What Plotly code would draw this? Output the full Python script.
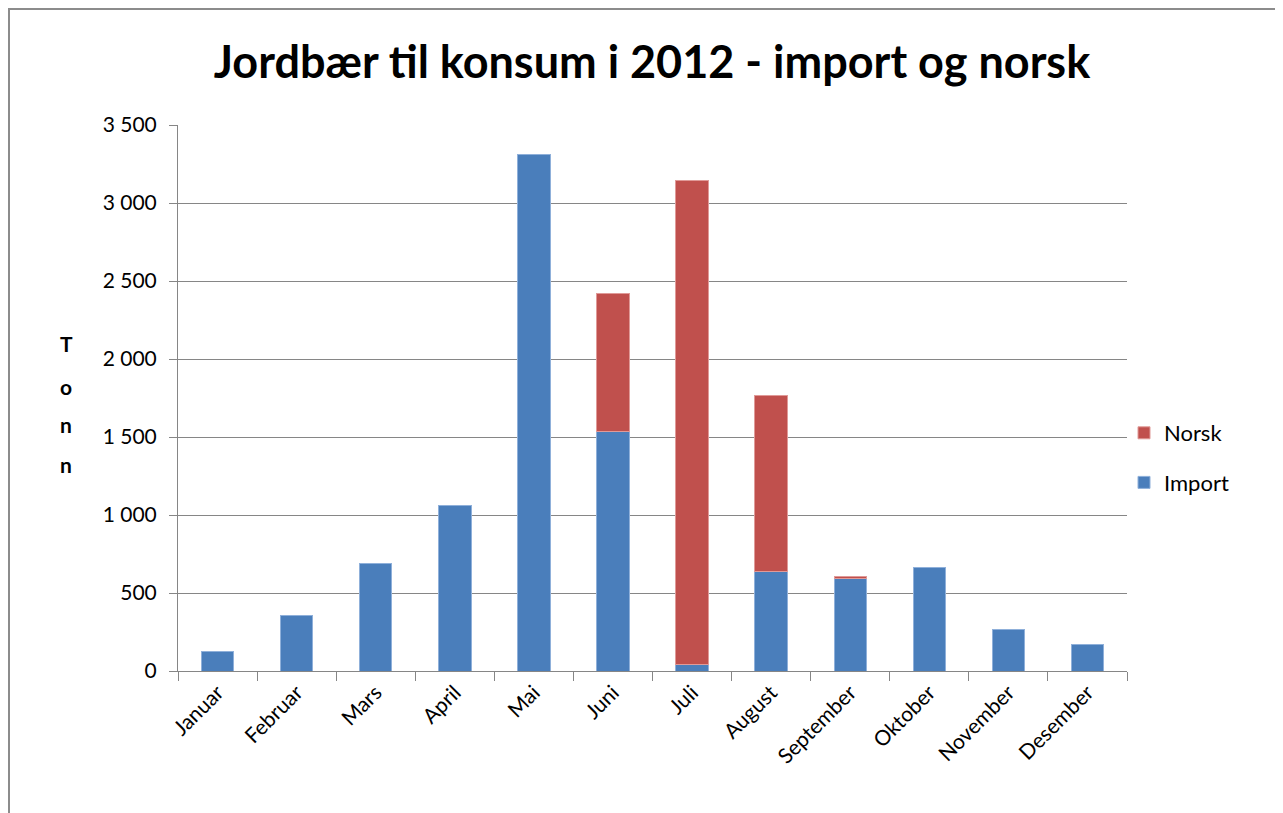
import plotly.graph_objects as go

months = ["Januar", "Februar", "Mars", "April", "Mai", "Juni", "Juli",
          "August", "September", "Oktober", "November", "Desember"]
import_vals = [122, 359, 692, 1064, 3310, 1538, 42, 641, 596, 665, 263, 167]
norsk_vals = [None, None, None, None, None, 885, 3100, 1122, 13, None, None, None]
y_ticks = [0, 500, 1000, 1500, 2000, 2500, 3000, 3500]
y_ticktext = ["0", "500", "1 000", "1 500", "2 000", "2 500", "3 000", "3 500"]

OFF = 8  # page body margin
W, H = 1283 - OFF, 813 - OFF
L, R, T, B = 178 - OFF, 1127 - OFF, 125 - OFF, 671 - OFF

font_family = "Lato, 'Open Sans', sans-serif"

fig = go.Figure()
fig.add_trace(go.Bar(x=months, y=import_vals, name="Import", legendgroup="imp", legendrank=2,
                     marker=dict(color="#4A7EBB", line=dict(color="#8FB0DA", width=1))))
fig.add_trace(go.Bar(x=months, y=norsk_vals, name="Norsk", legendgroup="nor", legendrank=1,
                     marker=dict(color="#C0504D", line=dict(color="#E09A98", width=1))))


def px_x(p):
    return (p - OFF - L) / (R - L)


def px_y(p):
    return (B - (p - OFF)) / (B - T)


fig.update_layout(
    width=W, height=H,
    margin=dict(l=L, r=W - R, t=T, b=H - B, autoexpand=False),
    barmode="stack",
    bargap=0.59,
    plot_bgcolor="white", paper_bgcolor="white",
    font=dict(family=font_family, color="#000000"),
    title=dict(text="<b>Jordbær til konsum i 2012 - import og norsk</b>",
               x=(652 - OFF) / W, xanchor="center", y=1 - (62 - OFF) / H, yanchor="middle",
               font=dict(size=45, family=font_family, color="#000000")),
    legend=dict(x=px_x(1124), y=px_y(412), xanchor="left", yanchor="top",
                traceorder="grouped", font=dict(size=22),
                itemwidth=30, tracegroupgap=18, bgcolor="rgba(0,0,0,0)"),
    showlegend=True,
    xaxis=dict(showline=True, linecolor="#868686", linewidth=1,
               ticks="outside", tickson="boundaries", ticklen=9, tickcolor="#868686",
               tickangle=-45, tickfont=dict(size=21), showgrid=False,
               range=[-0.5, 11.5]),
    yaxis=dict(range=[0, 3500], tickvals=y_ticks, ticktext=y_ticktext,
               showgrid=True, gridcolor="#868686", gridwidth=1,
               showline=True, linecolor="#868686", linewidth=1,
               ticks="outside", ticklen=8, tickcolor="#868686",
               ticklabelstandoff=8,
               tickfont=dict(size=21), zeroline=False),
)

for letter, yc in zip(["T", "o", "n", "n"], [343, 386, 424, 464]):
    fig.add_annotation(text="<b>" + letter + "</b>", xref="paper", yref="paper",
                       x=px_x(66), y=px_y(yc), xanchor="center", yanchor="middle",
                       showarrow=False, font=dict(size=21))

fig.add_shape(type="rect", xref="paper", yref="paper",
              x0=px_x(9), x1=px_x(1300), y0=px_y(830), y1=px_y(9),
              line=dict(color="#8C8C8C", width=2), fillcolor="rgba(0,0,0,0)", layer="below")

fig.write_html("out.html")
